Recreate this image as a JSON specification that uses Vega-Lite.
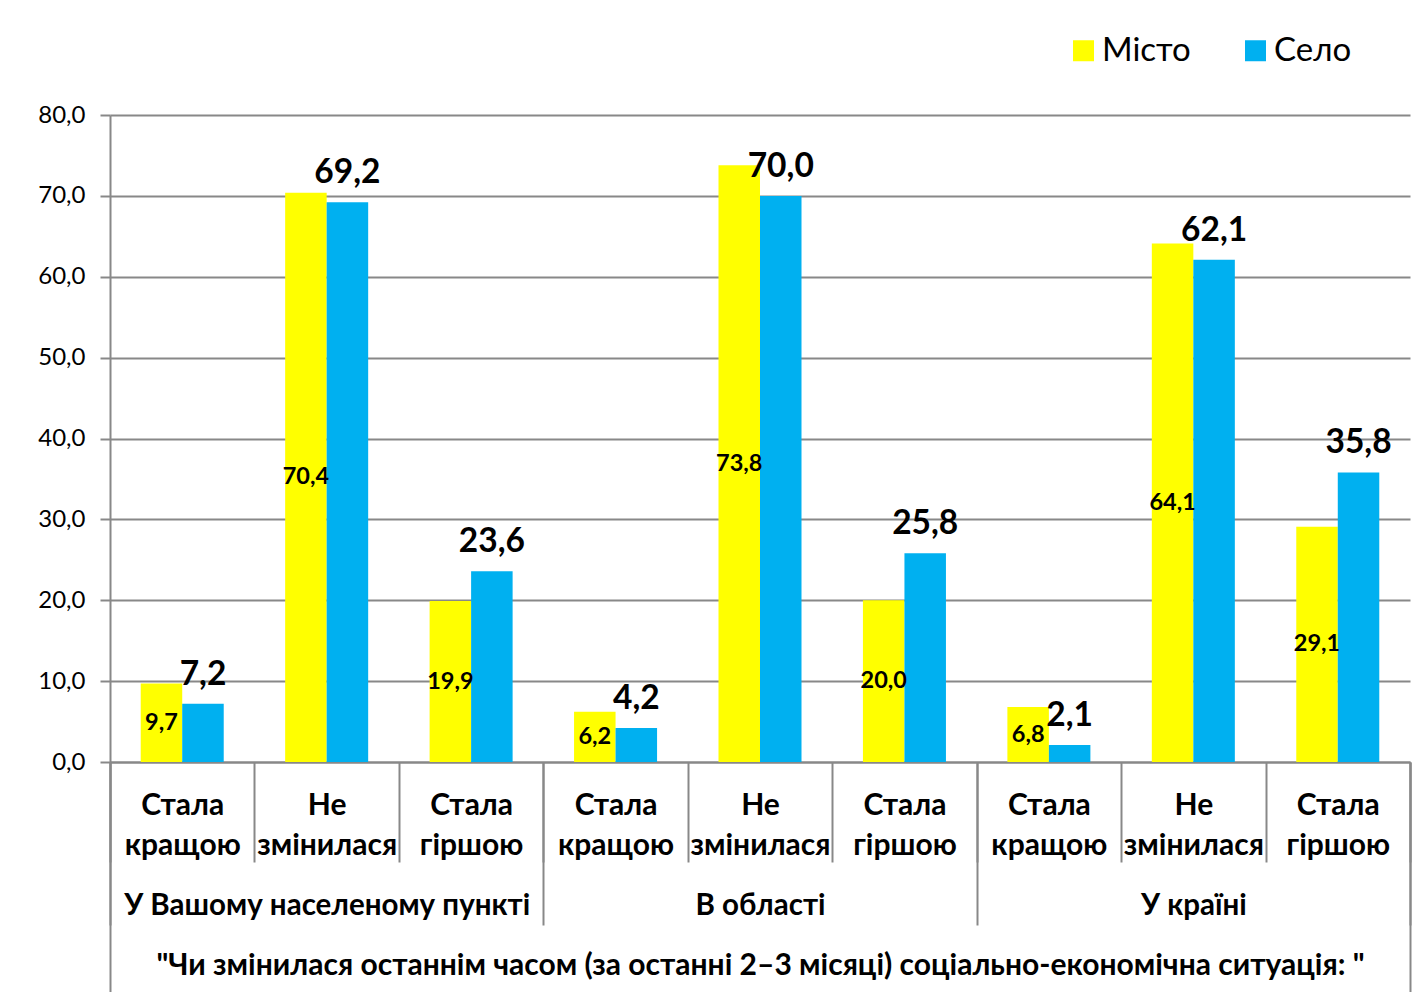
{
  "$schema": "https://vega.github.io/schema/vega-lite/v6.json",
  "width": 1300,
  "height": 647,
  "autosize": {"type": "none"},
  "padding": {"left": 110, "top": 115, "right": 6, "bottom": 230},
  "background": "white",
  "config": {
    "font": "Lato",
    "view": {"stroke": null},
    "locale": {"number": {"decimal": ",", "thousands": " ", "grouping": [3], "currency": ["", " ₴"]}}
  },
  "datasets": {
    "main": [
      {"group": "У Вашому населеному пункті", "cat": "Стала кращою", "key": "У Вашому населеному пункті|Стала кращою", "series": "Місто", "value": 9.7},
      {"group": "У Вашому населеному пункті", "cat": "Стала кращою", "key": "У Вашому населеному пункті|Стала кращою", "series": "Село", "value": 7.2},
      {"group": "У Вашому населеному пункті", "cat": "Не змінилася", "key": "У Вашому населеному пункті|Не змінилася", "series": "Місто", "value": 70.4},
      {"group": "У Вашому населеному пункті", "cat": "Не змінилася", "key": "У Вашому населеному пункті|Не змінилася", "series": "Село", "value": 69.2},
      {"group": "У Вашому населеному пункті", "cat": "Стала гіршою", "key": "У Вашому населеному пункті|Стала гіршою", "series": "Місто", "value": 19.9},
      {"group": "У Вашому населеному пункті", "cat": "Стала гіршою", "key": "У Вашому населеному пункті|Стала гіршою", "series": "Село", "value": 23.6},
      {"group": "В області", "cat": "Стала кращою", "key": "В області|Стала кращою", "series": "Місто", "value": 6.2},
      {"group": "В області", "cat": "Стала кращою", "key": "В області|Стала кращою", "series": "Село", "value": 4.2},
      {"group": "В області", "cat": "Не змінилася", "key": "В області|Не змінилася", "series": "Місто", "value": 73.8},
      {"group": "В області", "cat": "Не змінилася", "key": "В області|Не змінилася", "series": "Село", "value": 70.0},
      {"group": "В області", "cat": "Стала гіршою", "key": "В області|Стала гіршою", "series": "Місто", "value": 20.0},
      {"group": "В області", "cat": "Стала гіршою", "key": "В області|Стала гіршою", "series": "Село", "value": 25.8},
      {"group": "У країні", "cat": "Стала кращою", "key": "У країні|Стала кращою", "series": "Місто", "value": 6.8},
      {"group": "У країні", "cat": "Стала кращою", "key": "У країні|Стала кращою", "series": "Село", "value": 2.1},
      {"group": "У країні", "cat": "Не змінилася", "key": "У країні|Не змінилася", "series": "Місто", "value": 64.1},
      {"group": "У країні", "cat": "Не змінилася", "key": "У країні|Не змінилася", "series": "Село", "value": 62.1},
      {"group": "У країні", "cat": "Стала гіршою", "key": "У країні|Стала гіршою", "series": "Місто", "value": 29.1},
      {"group": "У країні", "cat": "Стала гіршою", "key": "У країні|Стала гіршою", "series": "Село", "value": 35.8}
    ],
    "groups": [
      {"group": "У Вашому населеному пункті"},
      {"group": "В області"},
      {"group": "У країні"}
    ],
    "all": [{"k": "all"}]
  },
  "layer": [
    {
      "data": {"name": "main"},
      "layer": [
        {
          "mark": {"type": "bar"},
          "encoding": {
            "x": {
              "field": "key", "type": "nominal", "sort": null,
              "scale": {"paddingInner": 0, "paddingOuter": 0},
              "axis": {
                "title": null, "orient": "bottom", "grid": false,
                "domain": true, "domainColor": "#888888", "domainWidth": 2,
                "ticks": true, "tickBand": "extent", "tickSize": 100, "tickColor": "#888888", "tickWidth": 2,
                "labelExpr": "indexof(datum.label + '', '|') >= 0 ? split(split(datum.label, '|')[1], ' ') : ''",
                "labelFont": "Lato", "labelFontWeight": "bold", "labelFontSize": 30, "labelColor": "black",
                "labelLineHeight": 40, "labelPadding": -72, "labelAngle": 0, "labelBaseline": "top",
                "labelLimit": 0, "labelOverlap": false
              }
            },
            "xOffset": {
              "field": "series", "type": "nominal",
              "scale": {"domain": ["Місто", "Село"], "paddingInner": 0, "paddingOuter": 0.74}
            },
            "y": {
              "field": "value", "type": "quantitative",
              "scale": {"domain": [0, 80], "nice": false, "zero": true},
              "axis": {
                "title": null, "values": [0, 10, 20, 30, 40, 50, 60, 70, 80], "format": ".1f",
                "grid": true, "gridColor": "#888888", "gridWidth": 2,
                "domain": true, "domainColor": "#888888", "domainWidth": 2,
                "ticks": true, "tickSize": 10, "tickColor": "#888888", "tickWidth": 2,
                "labelFont": "Lato", "labelFontSize": 24, "labelColor": "black", "labelPadding": 15
              }
            },
            "color": {
              "field": "series", "type": "nominal",
              "scale": {"domain": ["Місто", "Село"], "range": ["#FFFF00", "#00B0F0"]},
              "legend": {
                "title": null, "orient": "none", "direction": "horizontal",
                "legendX": 957, "legendY": -81, "padding": 0,
                "symbolType": "square", "symbolSize": 441, "symbolStrokeWidth": 0,
                "labelFont": "Lato", "labelFontSize": 33, "labelColor": "black", "labelOffset": 2,
                "columnPadding": 48
              }
            }
          }
        },
        {
          "transform": [{"filter": "datum.series === 'Місто'"}],
          "mark": {"type": "text", "font": "Lato", "fontSize": 23.5, "fontWeight": "bold", "baseline": "middle", "align": "center", "color": "black"},
          "encoding": {
            "x": {"field": "key", "type": "nominal", "sort": null},
            "xOffset": {"field": "series", "type": "nominal", "scale": {"domain": ["Місто", "Село"]}},
            "y": {"field": "value", "type": "quantitative", "scale": {"domain": [0, 160], "nice": false}, "axis": null},
            "text": {"field": "value", "type": "quantitative", "format": ".1f"}
          }
        },
        {
          "transform": [{"filter": "datum.series === 'Село'"}],
          "mark": {"type": "text", "font": "Lato", "fontSize": 33.5, "fontWeight": "bold", "baseline": "alphabetic", "align": "center", "dy": -19, "color": "black"},
          "encoding": {
            "x": {"field": "key", "type": "nominal", "sort": null},
            "xOffset": {"field": "series", "type": "nominal", "scale": {"domain": ["Місто", "Село"]}},
            "y": {"field": "value", "type": "quantitative", "scale": {"domain": [0, 80], "nice": false}, "axis": null},
            "text": {"field": "value", "type": "quantitative", "format": ".1f"}
          }
        }
      ],
      "resolve": {"scale": {"y": "independent"}, "axis": {"y": "independent"}}
    },
    {
      "data": {"name": "groups"},
      "mark": {"type": "point", "opacity": 0},
      "encoding": {
        "x": {
          "field": "group", "type": "nominal", "sort": null,
          "scale": {"paddingInner": 0, "paddingOuter": 0},
          "axis": {
            "orient": "bottom",
            "title": "\"Чи змінилася останнім часом (за останні 2–3 місяці) соціально-економічна ситуація: \"",
            "titleFont": "Lato", "titleFontSize": 30, "titleFontWeight": "bold", "titleColor": "black", "titlePadding": 24,
            "domain": false, "grid": false,
            "ticks": true, "tickBand": "extent", "tickSize": 163, "tickColor": "#888888", "tickWidth": 2,
            "labelFont": "Lato", "labelFontWeight": "bold", "labelFontSize": 29.5, "labelColor": "black",
            "labelBaseline": "middle", "labelPadding": -20, "labelAngle": 0, "labelLimit": 0, "labelOverlap": false
          }
        }
      }
    },
    {
      "data": {"name": "all"},
      "mark": {"type": "point", "opacity": 0},
      "encoding": {
        "x": {
          "field": "k", "type": "nominal",
          "scale": {"paddingInner": 0, "paddingOuter": 0},
          "axis": {
            "orient": "bottom", "title": null, "domain": false, "grid": false, "labels": false,
            "ticks": true, "tickBand": "extent", "tickSize": 232, "tickColor": "#888888", "tickWidth": 2
          }
        }
      }
    }
  ],
  "resolve": {"scale": {"x": "independent", "y": "independent"}, "axis": {"x": "independent"}}
}
